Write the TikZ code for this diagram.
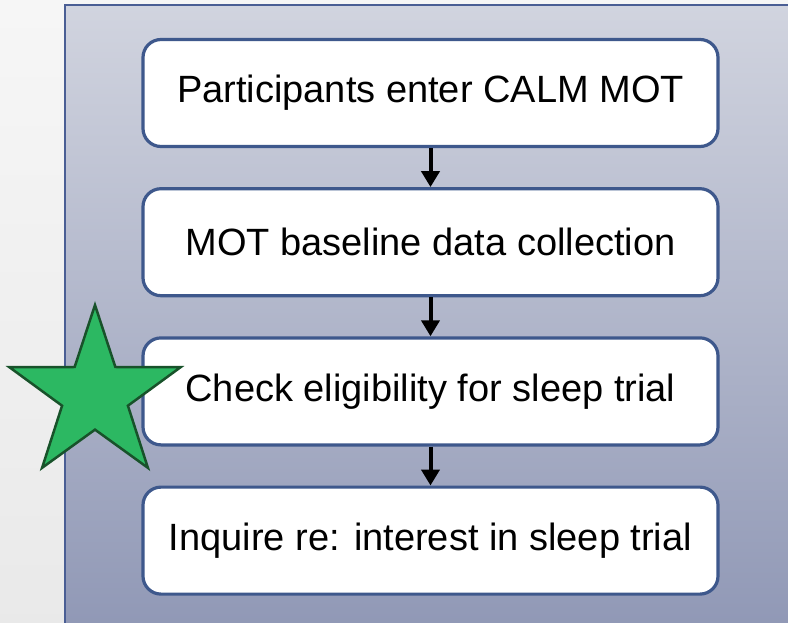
\documentclass[tikz,border=0pt]{standalone}
\usepackage{fontspec}
\setmainfont{Liberation Sans}
\usetikzlibrary{positioning,shapes.geometric,arrows.meta}

\definecolor{panelTop}{RGB}{209,212,223}
\definecolor{panelBot}{RGB}{143,151,181}
\definecolor{panelLine}{RGB}{74,94,148}
\definecolor{boxLine}{RGB}{62,88,140}
\definecolor{starFill}{RGB}{44,184,98}
\definecolor{starLine}{RGB}{24,82,42}

\begin{document}
\begin{tikzpicture}
[x=1pt, y=-1pt, node distance = 39pt,
stepbox/.style={draw=boxLine, line width=3.2pt, fill=white, rounded corners=18pt,
  minimum width=575pt, minimum height=107pt, inner sep=0pt,
  font=\fontsize{38}{45}\selectfont},
flow/.style={line width=4pt, -{Triangle[width=18pt,length=16pt]}}]

% background and panel
\shade[top color=gray!7, bottom color=gray!17] (0,0) rectangle (788,622);
\useasboundingbox (0,0) rectangle (788,622);
\shade[top color=panelTop, bottom color=panelBot] (65,5) rectangle (800,640);
\draw[panelLine, line width=1.5pt] (800,5) -- (65,5) -- (65,640);

\node[stepbox] (enter) at (430.5,93) {Participants enter CALM MOT};
\node[stepbox] (base)[below=of enter] {MOT baseline data collection};
\node[stepbox] (elig)[below=of base] {Check eligibility for sleep trial};
\node[stepbox] (ask)[below=of elig] {Inquire re: interest in sleep trial};

\draw[flow] (enter) -- (base);
\draw[flow] (base) -- (elig);
\draw[flow] (elig) -- (ask);

\node[star, star points=5, star point ratio=2.6, minimum size=180pt, inner sep=0pt,
  fill=starFill, draw=starLine, line width=2.5pt] (mark) at (95,395) {};

\end{tikzpicture}
\end{document}
